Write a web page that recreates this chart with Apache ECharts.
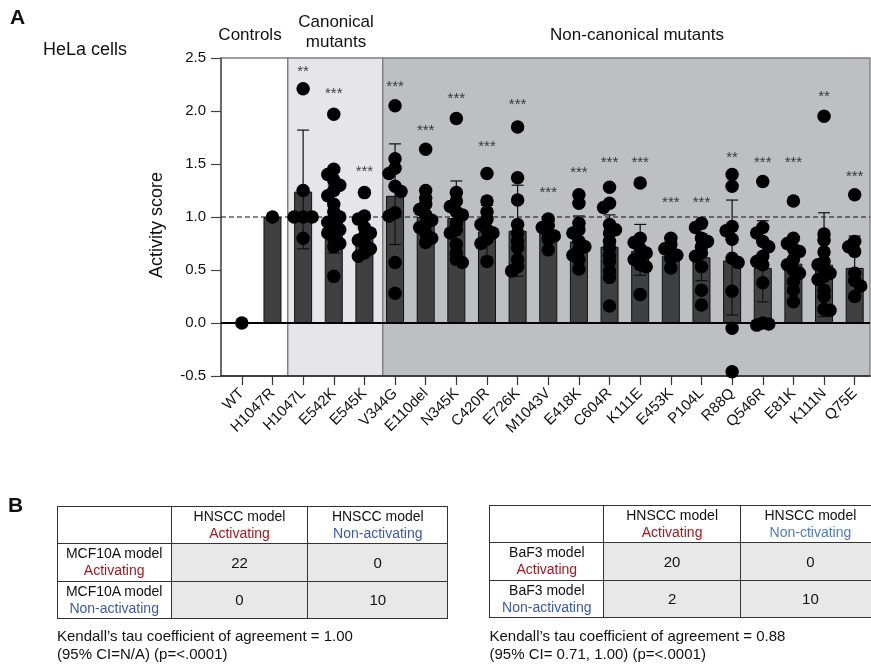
<!DOCTYPE html>
<html>
<head>
<meta charset="utf-8">
<script src="https://cdn.jsdelivr.net/npm/echarts@6/dist/echarts.min.js"></script>
<style>
html,body{margin:0;padding:0;background:#fff;}
#wrap{position:relative;width:871px;height:667px;overflow:hidden;font-family:'Liberation Sans',Arial,Helvetica,sans-serif;color:#111;}
#chart{position:absolute;left:0;top:0;width:871px;height:667px;}
table.ct{position:absolute;border-collapse:collapse;table-layout:fixed;font-size:14px;line-height:17px;}
table.ct td{border:1.5px solid #333;text-align:center;vertical-align:middle;padding:0;background:#fff;}
table.ct td.num{background:#e8e8e8;font-size:15px;}
.kt{position:absolute;font-size:15px;line-height:18.6px;white-space:nowrap;color:#111;}
.act{color:#a3191f;}
.non{color:#3a5aa8;}
.non2{color:#4a7cc6;}
</style>
</head>
<body>
<div id="wrap">
  <div id="chart"></div>
</div>
<script>
// ---------------- DATA ----------------
const categories = ['WT','H1047R','H1047L','E542K','E545K','V344G','E110del','N345K','C420R','E726K','M1043V','E418K','C604R','K111E','E453K','P104L','R88Q','Q546R','E81K','K111N','Q75E'];
const barMeans = [0, 1.00, 1.24, 0.98, 0.82, 1.20, 1.00, 0.99, 0.865, 0.87, 0.86, 0.77, 0.72, 0.68, 0.635, 0.62, 0.59, 0.52, 0.56, 0.55, 0.52];
const errLow  = [null, null, 0.70, 0.66, 0.66, 0.74, 0.77, 0.64, 0.62, 0.44, 0.76, 0.53, 0.42, 0.45, 0.54, 0.40, 0.075, 0.20, 0.31, 0.06, 0.22];
const errHigh = [null, null, 1.82, 1.30, 0.98, 1.69, 1.24, 1.34, 1.11, 1.30, 0.96, 1.01, 1.02, 0.93, 0.73, 0.84, 1.16, 0.965, 0.81, 1.04, 0.82];
const dotValues = [
  [0],
  [1.0],
  [2.21, 1.25, 1.0, 1.0, 1.0, 0.80],
  [1.97, 1.45, 1.40, 1.35, 1.30, 1.25, 1.20, 1.12, 1.05, 1.0, 0.98, 0.95, 0.90, 0.88, 0.85, 0.80, 0.75, 0.72, 0.44],
  [1.23, 1.01, 0.98, 0.90, 0.85, 0.82, 0.78, 0.75, 0.70, 0.66, 0.63],
  [2.05, 1.55, 1.46, 1.41, 1.29, 1.24, 1.04, 1.01, 0.57, 0.28],
  [1.64, 1.25, 1.18, 1.12, 1.07, 1.02, 0.97, 0.93, 0.90, 0.85, 0.80, 0.76],
  [1.93, 1.23, 1.15, 1.10, 1.05, 1.02, 0.94, 0.88, 0.85, 0.74, 0.66, 0.60, 0.57],
  [1.41, 1.15, 1.05, 0.98, 0.93, 0.88, 0.85, 0.79, 0.75, 0.58],
  [1.85, 1.37, 1.16, 0.93, 0.85, 0.77, 0.71, 0.60, 0.53, 0.49],
  [0.98, 0.92, 0.90, 0.85, 0.82, 0.79, 0.69],
  [1.21, 1.13, 0.94, 0.88, 0.85, 0.77, 0.72, 0.69, 0.64, 0.60, 0.51],
  [1.28, 1.13, 1.09, 0.93, 0.88, 0.85, 0.77, 0.71, 0.64, 0.58, 0.49, 0.43, 0.16],
  [1.32, 0.80, 0.76, 0.70, 0.66, 0.62, 0.60, 0.55, 0.53, 0.27],
  [0.80, 0.74, 0.70, 0.675, 0.64, 0.61, 0.52],
  [0.94, 0.90, 0.80, 0.77, 0.72, 0.66, 0.63, 0.53, 0.31, 0.17],
  [1.40, 1.29, 0.91, 0.87, 0.79, 0.61, 0.57, 0.30, -0.05, -0.46],
  [1.335, 0.90, 0.85, 0.77, 0.72, 0.63, 0.58, 0.55, 0.38, 0.0, -0.01, -0.02],
  [1.15, 0.80, 0.75, 0.70, 0.675, 0.60, 0.55, 0.50, 0.47, 0.39, 0.31, 0.20],
  [1.95, 0.84, 0.78, 0.67, 0.58, 0.55, 0.52, 0.47, 0.44, 0.41, 0.31, 0.25, 0.13, 0.12],
  [1.21, 0.77, 0.72, 0.675, 0.47, 0.40, 0.35, 0.25]
];
const starLabels = ['', '', '**', '***', '***', '***', '***', '***', '***', '***', '***', '***', '***', '***', '***', '***', '**', '***', '***', '**', '***'];
const starLevels = [null, null, 2.41, 2.20, 1.465, 2.27, 1.85, 2.155, 1.70, 2.10, 1.265, 1.45, 1.55, 1.55, 1.17, 1.17, 1.60, 1.55, 1.55, 2.17, 1.415];
const refLevels = [1.0, 0.0];
const yMin = -0.5, yMax = 2.5, yStep = 0.5;
const xMin = -0.68, xMax = 20.5;
const regionEdges = [-0.68, 1.5, 4.6, 20.5];
const regionColors = ['#ffffff', '#e6e6e8', '#bebfc1'];

// tables
const leftRowModel = 'MCF10A model';
const rightRowModel = 'BaF3 model';
const colModel = 'HNSCC model';
const leftColStates = ['Activating', 'Non-activating'];
const rightColStates = ['Activating', 'Non-ctivating'];
const rowStates = ['Activating', 'Non-activating'];
const leftCounts = [[22, 0], [0, 10]];
const rightCounts = [[20, 0], [2, 10]];
const leftKendall = ['Kendall\u2019s tau coefficient of agreement = 1.00', '(95% CI=N/A) (p=<.0001)'];
const rightKendall = ['Kendall\u2019s tau coefficient of agreement = 0.88', '(95% CI= 0.71, 1.00) (p=<.0001)'];

// ---------------- LAYOUT HELPERS ----------------
const FONT = "'Liberation Sans', Arial, Helvetica, sans-serif";
const DOT = 13.5;
const PX_PER_UNIT = 106;
function swarmOffsets(vals) {
  const order = vals.map((v, i) => i).sort((a, b) => vals[b] - vals[a]);
  const placed = [];
  const off = new Array(vals.length).fill(0);
  let toggle = false;
  for (const i of order) {
    const y = vals[i] * PX_PER_UNIT;
    const cands = toggle ? [0, 6, -6, 9, -9, 3, -3] : [0, -6, 6, -9, 9, -3, 3];
    let best = 0, bestD = -1;
    for (const c of cands) {
      let md = Infinity;
      for (const p of placed) {
        const d = Math.hypot(c - p.x, y - p.y);
        if (d < md) md = d;
      }
      if (md >= DOT * 0.45) { best = c; break; }
      if (md > bestD) { bestD = md; best = c; }
    }
    if (best !== 0) toggle = !toggle;
    placed.push({ x: best, y });
    off[i] = best;
  }
  return off;
}

const catIdx = categories.map((c, i) => i);
const dotData = [];
dotValues.forEach((vals, i) => {
  const offs = swarmOffsets(vals);
  vals.forEach((v, k) => dotData.push({ value: [i, v], symbolOffset: [offs[k], 0] }));
});
const errData = [];
catIdx.forEach(i => { if (errLow[i] != null) errData.push([i, errLow[i], errHigh[i]]); });
const starData = [];
catIdx.forEach(i => { if (starLevels[i] != null) starData.push({ value: [i, starLevels[i]], name: starLabels[i] }); });
const regionData = regionColors.map((c, i) => [regionEdges[i], regionEdges[i + 1], i]);

// ---------------- CHART ----------------
const chart = echarts.init(document.getElementById('chart'), null, { renderer: 'canvas' });
const txt = (o) => Object.assign({ fill: '#111', font: '17px ' + FONT }, o);
chart.setOption({
  animation: false,
  backgroundColor: '#fff',
  textStyle: { fontFamily: FONT },
  grid: { left: 221, right: 1, top: 58, bottom: 291 },
  xAxis: {
    type: 'value', min: xMin, max: xMax,
    axisLine: { show: true, onZero: false, lineStyle: { color: '#222', width: 1.5 } },
    axisTick: { show: true, customValues: catIdx, length: 9, lineStyle: { color: '#333', width: 1.2 } },
    axisLabel: { customValues: catIdx, rotate: 45, fontSize: 15, color: '#111', margin: 15, fontFamily: FONT,
      formatter: v => categories[Math.round(v)] },
    splitLine: { show: false }
  },
  yAxis: {
    type: 'value', min: yMin, max: yMax, interval: yStep,
    axisLine: { show: true, onZero: false, lineStyle: { color: '#555', width: 1.5 } },
    axisTick: { show: true, length: 10, lineStyle: { color: '#444', width: 1.2 } },
    axisLabel: { fontSize: 15, color: '#111', margin: 15, fontFamily: FONT, formatter: v => v.toFixed(1) },
    splitLine: { show: false }
  },
  graphic: [
    { type: 'text', left: 10, top: 8, style: txt({ text: 'A', font: 'bold 21px ' + FONT }) },
    { type: 'text', x: 43, y: 50, style: txt({ text: 'HeLa cells', font: '18px ' + FONT, verticalAlign: 'middle' }) },
    { type: 'text', x: 250, y: 35, style: txt({ text: 'Controls', align: 'center', verticalAlign: 'middle' }) },
    { type: 'text', x: 336, y: 32, style: txt({ text: 'Canonical\nmutants', align: 'center', verticalAlign: 'middle', lineHeight: 20 }) },
    { type: 'text', x: 637, y: 35, style: txt({ text: 'Non-canonical mutants', align: 'center', verticalAlign: 'middle' }) },
    { type: 'text', x: 157, y: 225, rotation: Math.PI / 2, style: txt({ text: 'Activity score', font: '18px ' + FONT, align: 'center', verticalAlign: 'middle' }) },
    { type: 'text', left: 8, top: 496, style: txt({ text: 'B', font: 'bold 21px ' + FONT }) }
  ],
  series: [
    {
      type: 'custom', z: 0, silent: true, clip: false,
      data: regionData,
      renderItem: (params, api) => {
        const a = api.coord([api.value(0), yMax]);
        const b = api.coord([api.value(1), yMin]);
        return { type: 'rect', shape: { x: a[0], y: a[1], width: b[0] - a[0], height: b[1] - a[1] },
          style: { fill: regionColors[api.value(2)], stroke: '#7d7d7d', lineWidth: 1.3 } };
      }
    },
    {
      type: 'bar', z: 2, silent: true, barWidth: 18,
      data: barMeans.map((v, i) => [i, v]),
      itemStyle: { color: '#404040', borderColor: '#111', borderWidth: 1 }
    },
    {
      type: 'custom', z: 3, silent: true,
      data: errData,
      renderItem: (params, api) => {
        const x = api.value(0);
        const lo = api.coord([x, api.value(1)]);
        const hi = api.coord([x, api.value(2)]);
        const hw = 6;
        const st = { stroke: '#111', lineWidth: 1.2 };
        return { type: 'group', children: [
          { type: 'line', shape: { x1: hi[0], y1: hi[1], x2: lo[0], y2: lo[1] }, style: st },
          { type: 'line', shape: { x1: hi[0] - hw, y1: hi[1], x2: hi[0] + hw, y2: hi[1] }, style: st },
          { type: 'line', shape: { x1: lo[0] - hw, y1: lo[1], x2: lo[0] + hw, y2: lo[1] }, style: st }
        ] };
      }
    },
    {
      type: 'line', z: 4, silent: true, symbol: 'none',
      data: [[xMin, refLevels[0]], [xMax, refLevels[0]]],
      lineStyle: { color: '#111', width: 1.2, type: [5, 3] }
    },
    {
      type: 'line', z: 4, silent: true, symbol: 'none',
      data: [[xMin, refLevels[1]], [xMax, refLevels[1]]],
      lineStyle: { color: '#000', width: 2, type: 'solid' }
    },
    {
      type: 'scatter', z: 5, silent: true, symbol: 'circle', symbolSize: DOT,
      data: dotData,
      itemStyle: { color: '#000', opacity: 1 }
    },
    {
      type: 'scatter', z: 6, silent: true, symbolSize: 1,
      data: starData,
      itemStyle: { color: 'rgba(0,0,0,0)' },
      label: { show: true, position: 'inside', formatter: '{b}', fontSize: 15, color: '#111', offset: [0, 4], fontFamily: FONT }
    }
  ]
});

// ---------------- TABLES ----------------
const wrap = document.getElementById('wrap');
function buildTable(left, top, rowModel, colStates, counts, colCls) {
  const t = document.createElement('table');
  t.className = 'ct';
  t.style.left = left + 'px';
  t.style.top = top + 'px';
  const widths = [114, 136.6, 140];
  const heights = [37, 38, 37];
  let html = '<colgroup>' + widths.map(w => '<col style="width:' + w + 'px">').join('') + '</colgroup>';
  html += '<tr style="height:' + heights[0] + 'px"><td></td>' +
    colStates.map((s, j) => '<td>' + colModel + '<br><span class="' + colCls[j] + '">' + s + '</span></td>').join('') + '</tr>';
  counts.forEach((row, r) => {
    html += '<tr style="height:' + heights[r + 1] + 'px"><td>' + rowModel + '<br><span class="' + (r === 0 ? 'act' : 'non') + '">' + rowStates[r] + '</span></td>' +
      row.map(c => '<td class="num">' + c + '</td>').join('') + '</tr>';
  });
  t.innerHTML = html;
  t.style.width = widths.reduce((a, b) => a + b, 0) + 'px';
  wrap.appendChild(t);
}
function buildText(left, top, lines) {
  const d = document.createElement('div');
  d.className = 'kt';
  d.style.left = left + 'px';
  d.style.top = top + 'px';
  d.innerHTML = lines.join('<br>');
  wrap.appendChild(d);
}
buildTable(56.7, 505.5, leftRowModel, leftColStates, leftCounts, ['act', 'non']);
buildTable(489.3, 504.8, rightRowModel, rightColStates, rightCounts, ['act', 'non2']);
buildText(57, 626.5, leftKendall);
buildText(489.5, 626.5, rightKendall);
</script>
</body>
</html>
